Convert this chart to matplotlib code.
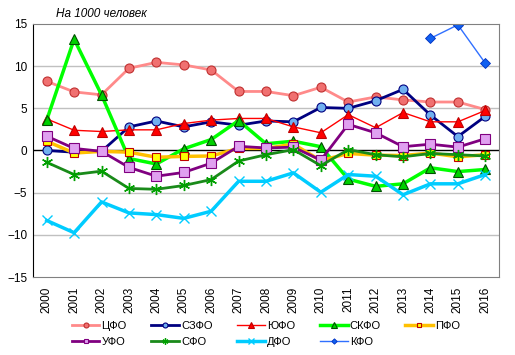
import matplotlib.pyplot as plt

plt.rcParams["font.family"] = ["Liberation Sans", "DejaVu Sans"]

years = [str(y) for y in range(2000, 2017)]

cfo = [8.2, 6.95, 6.6, 9.75, 10.45, 10.15, 9.55, 7.0, 7.0, 6.5, 7.5, 5.75, 6.35, 6.0, 5.75, 5.75, 4.85]
szfo = [0.0, -0.2, -0.1, 2.8, 3.5, 2.8, 3.4, 3.0, 3.5, 3.4, 5.1, 5.0, 5.9, 7.25, 4.2, 1.65, 4.05]
yufo = [3.75, 2.4, 2.25, 2.45, 2.45, 3.2, 3.6, 3.8, 3.8, 2.8, 2.1, 4.25, 2.7, 4.5, 3.4, 3.4, 4.75]
skfo = [3.6, 13.2, 6.6, -0.95, -1.6, 0.2, 1.3, 3.55, 0.8, 1.1, 0.45, -3.4, -4.25, -3.95, -2.05, -2.5, -2.25]
pfo = [1.1, -0.3, -0.1, -0.2, -0.8, -0.7, -0.65, 0.25, 0.25, 0.75, -1.2, -0.35, -0.55, -0.6, -0.3, -0.75, -0.5]
ufo = [1.7, 0.25, -0.1, -2.0, -3.05, -2.6, -1.5, 0.5, 0.3, 0.4, -1.15, 3.1, 2.1, 0.45, 0.75, 0.4, 1.4]
sfo = [-1.4, -2.85, -2.45, -4.5, -4.6, -4.15, -3.45, -1.25, -0.5, 0.1, -1.8, 0.1, -0.5, -0.75, -0.35, -0.5, -0.65]
dfo = [-8.3, -9.75, -6.1, -7.4, -7.6, -8.05, -7.2, -3.65, -3.65, -2.65, -4.95, -2.85, -3.05, -5.25, -3.95, -3.95, -2.85]
kfo_years = ["2014", "2015", "2016"]
kfo = [13.3, 14.9, 10.35]

fig = plt.figure(figsize=(5.15, 3.55), dpi=100)
ax = fig.add_axes([33 / 515, 1 - 277 / 355, 466 / 515, 253 / 355])

x = list(range(len(years)))
xk = [years.index(y) for y in kfo_years]

lines = []
lines += ax.plot(x, cfo, color="#ff8a8a", lw=2, marker="o", ms=6.5, mfc="#f07070", mec="#c03030", mew=0.8, label="ЦФО")
lines += ax.plot(x, szfo, color="#000080", lw=2, marker="o", ms=6.5, mfc="#70b0f0", mec="#000080", mew=0.8, label="СЗФО")
lines += ax.plot(x, yufo, color="#ff0000", lw=1, marker="^", ms=7, mfc="#ff0000", mec="#c00000", mew=0.8, label="ЮФО")
lines += ax.plot(x, skfo, color="#00ff00", lw=2.5, marker="^", ms=7, mfc="#00d000", mec="#005000", mew=0.8, label="СКФО")
lines += ax.plot(x, pfo, color="#ffc000", lw=2.5, marker="s", ms=6, mfc="#ffff00", mec="#c00000", mew=0.8, label="ПФО")
lines += ax.plot(x, ufo, color="#800080", lw=2, marker="s", ms=6.5, mfc="#e0a0f0", mec="#800080", mew=0.8, label="УФО")
lines += ax.plot(x, sfo, color="#1a8a1a", lw=2, marker=(6, 2, 0), ms=8, mec="#00a000", mew=1, label="СФО")
lines += ax.plot(x, dfo, color="#00ccff", lw=2.5, marker="x", ms=7, mec="#00ccff", mew=1, label="ДФО")
lines += ax.plot(xk, kfo, color="#3070ff", lw=1, marker="D", ms=5, mfc="#1060f0", mec="#0030c0", mew=0.6, label="КФО")

ax.set_xlim(-0.5, len(years) - 0.5)
ax.set_ylim(-15, 15)
ax.set_yticks([-15, -10, -5, 0, 5, 10, 15])
ax.set_xticks(x)
ax.set_xticklabels(years, rotation=90)
ax.tick_params(axis="both", length=0, labelsize=8.5)
ax.tick_params(axis="x", pad=7)
ax.tick_params(axis="y", pad=4)

for yv in [-10, -5, 5, 10]:
    ax.axhline(yv, color="#c0c0c0", lw=1, zorder=0)
ax.axhline(0, color="black", lw=1, zorder=1)

for side in ["top", "right", "bottom"]:
    ax.spines[side].set_color("#808080")
ax.spines["left"].set_color("black")

fig.text(56 / 515, 1 - 14 / 355, "На 1000 человек", fontsize=8.5, style="italic", va="center", ha="left")

# legend fills column by column, so interleave to get two rows in series order
order = [0, 5, 1, 6, 2, 7, 3, 8, 4]
handles = [lines[i] for i in order]
fig.legend(handles, [h.get_label() for h in handles], loc="center", bbox_to_anchor=(266 / 515, 1 - 334 / 355),
           ncol=5, frameon=False, fontsize=8, handlelength=2.5, handletextpad=0.2, columnspacing=2.2,
           labelspacing=0.5, markerscale=0.55, borderpad=0)

fig.savefig("out.png", dpi=100)
